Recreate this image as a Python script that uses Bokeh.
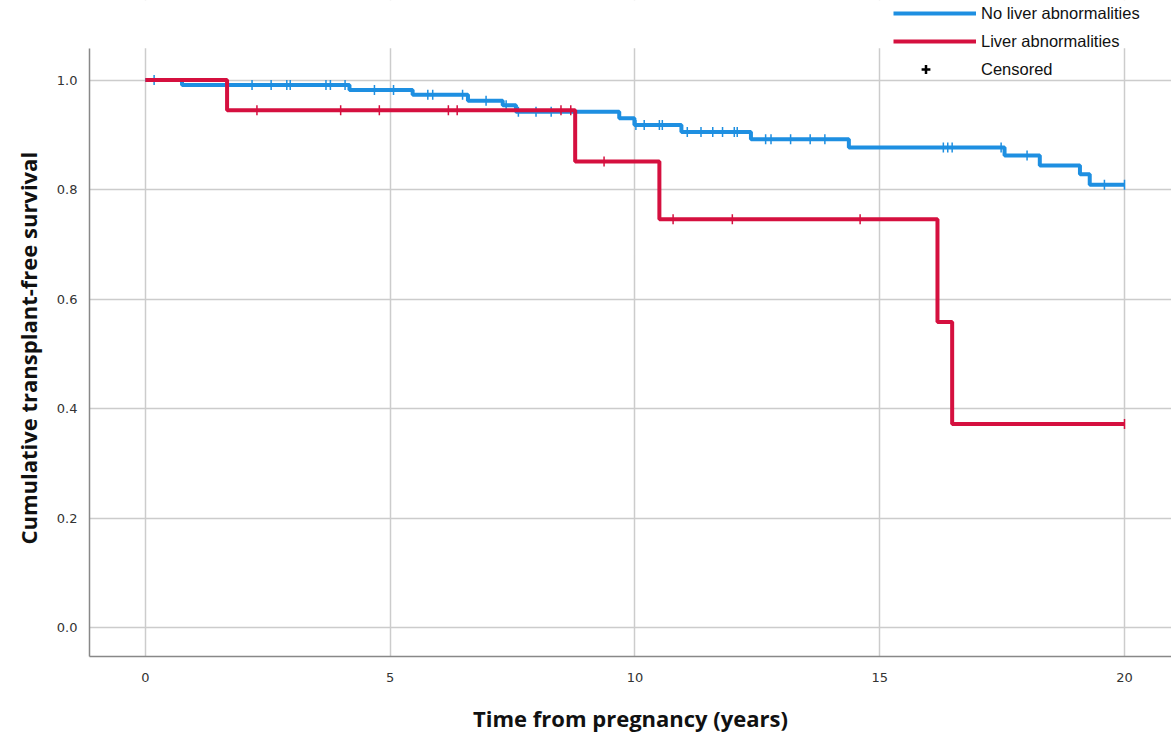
import numpy as np
from bokeh.plotting import figure
from bokeh.models import (Range1d, Legend, LegendItem, FixedTicker, NumeralTickFormatter,
                          BoxAnnotation, Title)
from bokeh.embed import file_html
from bokeh.resources import INLINE

# ---- data ----
blue_times = [0, 0.75, 4.17, 5.46, 6.59, 7.30, 7.57, 9.68, 9.99, 10.95, 12.37,
              14.37, 17.55, 18.27, 19.09, 19.29, 20.0]
blue_surv = [1.0, 0.991, 0.982, 0.973, 0.962, 0.954, 0.942, 0.930, 0.918, 0.905,
             0.892, 0.877, 0.862, 0.844, 0.828, 0.809, 0.809]
blue_censored = [0.18, 2.18, 2.57, 2.89, 2.96, 3.69, 3.78, 4.08, 4.68, 5.07, 5.77,
                 5.87, 6.48, 6.96, 7.37, 7.62, 7.98, 8.29, 10.02, 10.19, 10.50,
                 10.56, 11.07, 11.35, 11.59, 11.79, 12.03, 12.09, 12.67, 12.78,
                 13.18, 13.58, 13.88, 16.30, 16.39, 16.48, 17.48, 18.01, 19.59, 20.0]

red_times = [0, 1.67, 8.78, 10.50, 16.18, 16.48, 20.0]
red_surv = [1.0, 0.945, 0.851, 0.746, 0.558, 0.372, 0.372]
red_censored = [2.28, 3.99, 4.78, 6.19, 6.37, 8.49, 8.69, 9.37, 10.78, 11.99, 14.6, 20.0]

x_ticks = [0, 5, 10, 15, 20]
y_ticks = [0.0, 0.2, 0.4, 0.6, 0.8, 1.0]

# visible plot-area limits (data units)
X_MIN, X_MAX = -1.14, 20.96
Y_MIN, Y_TOP = -0.0526, 1.058

BLUE = "#1e8fe1"
RED = "#d5103f"


def surv_at(times, surv, ts):
    times = np.asarray(times)
    surv = np.asarray(surv)
    idx = np.searchsorted(times, np.asarray(ts), side="right") - 1
    return surv[idx]


# frame runs to the top of the page so the legend (which sits above the plot area)
# is not clipped; the area above Y_TOP is masked white.
p = figure(width=1171, height=735, output_backend="svg", toolbar_location=None,
           x_range=Range1d(X_MIN, X_MAX), y_range=Range1d(Y_MIN, 1.1452),
           min_border_left=88, min_border_right=0, min_border_top=0,
           min_border_bottom=75)
p.outline_line_color = None
p.background_fill_color = "white"
p.border_fill_color = "white"

p.xgrid.grid_line_color = "#cccccc"
p.ygrid.grid_line_color = "#cccccc"
p.xgrid.grid_line_width = 1.5
p.ygrid.grid_line_width = 1.5

p.add_layout(BoxAnnotation(bottom=Y_TOP, fill_color="white", fill_alpha=1.0,
                           line_alpha=0, level="underlay"))

p.xaxis.ticker = FixedTicker(ticks=x_ticks)
p.yaxis.ticker = FixedTicker(ticks=y_ticks)
p.yaxis.formatter = NumeralTickFormatter(format="0.0")
p.yaxis.bounds = (Y_MIN, Y_TOP)

for ax in (p.xaxis, p.yaxis):
    ax.major_tick_line_color = None
    ax.minor_tick_line_color = None
    ax.axis_line_color = "#888888"
    ax.axis_line_width = 1.5
    ax.major_label_text_font = "DejaVu Sans"
    ax.major_label_text_font_size = "13px"
    ax.major_label_text_color = "#333333"

p.xaxis.axis_label_text_font = "Open Sans"
p.xaxis.axis_label_text_font_style = "bold"
p.xaxis.axis_label_text_font_size = "22px"
p.xaxis.axis_label_text_color = "#111111"

p.xaxis.major_label_standoff = 10
p.yaxis.major_label_standoff = 6
p.xaxis.axis_label_standoff = 18
p.xaxis.axis_label = "Time from pregnancy (years)"

# y-axis title placed along the visible plot area (not the extended frame)
ytitle = Title(text="Cumulative transplant-free survival", align="left", offset=112,
               standoff=21, text_font="Open Sans", text_font_style="bold",
               text_font_size="22px", text_color="#111111")
p.add_layout(ytitle, "left")

blue_line = p.step(blue_times, blue_surv, mode="after", line_color=BLUE, line_width=4)
p.scatter(blue_censored, surv_at(blue_times, blue_surv, blue_censored), marker="dash",
          angle=np.pi / 2, size=10, line_color=BLUE, line_width=1.5)

red_line = p.step(red_times, red_surv, mode="after", line_color=RED, line_width=4)
p.scatter(red_censored, surv_at(red_times, red_surv, red_censored), marker="dash",
          angle=np.pi / 2, size=10, line_color=RED, line_width=1.5)

# legend-only proxy for the "Censored" symbol (NaN position: never drawn in the plot)
cens_legend = p.scatter(x=np.array([np.nan]), y=np.array([np.nan]), marker="cross",
                        size=16, line_color="black", line_width=2.5)

legend_common = dict(glyph_height=22, label_height=22, spacing=6, padding=0, margin=0,
                     border_line_alpha=0, background_fill_alpha=0,
                     label_text_font="Liberation Sans", label_text_font_size="16.5px",
                     label_text_color="#111111")

legend_top = Legend(items=[
    LegendItem(label="No liver abnormalities", renderers=[blue_line]),
    LegendItem(label="Liver abnormalities", renderers=[red_line]),
], location=(804, 604), glyph_width=83, label_standoff=5, **legend_common)
p.add_layout(legend_top)

legend_cens = Legend(items=[
    LegendItem(label="Censored", renderers=[cens_legend]),
], location=(804, 576), glyph_width=65, label_standoff=23, **legend_common)
p.add_layout(legend_cens)

open("out.html", "w").write(file_html(p, INLINE))
